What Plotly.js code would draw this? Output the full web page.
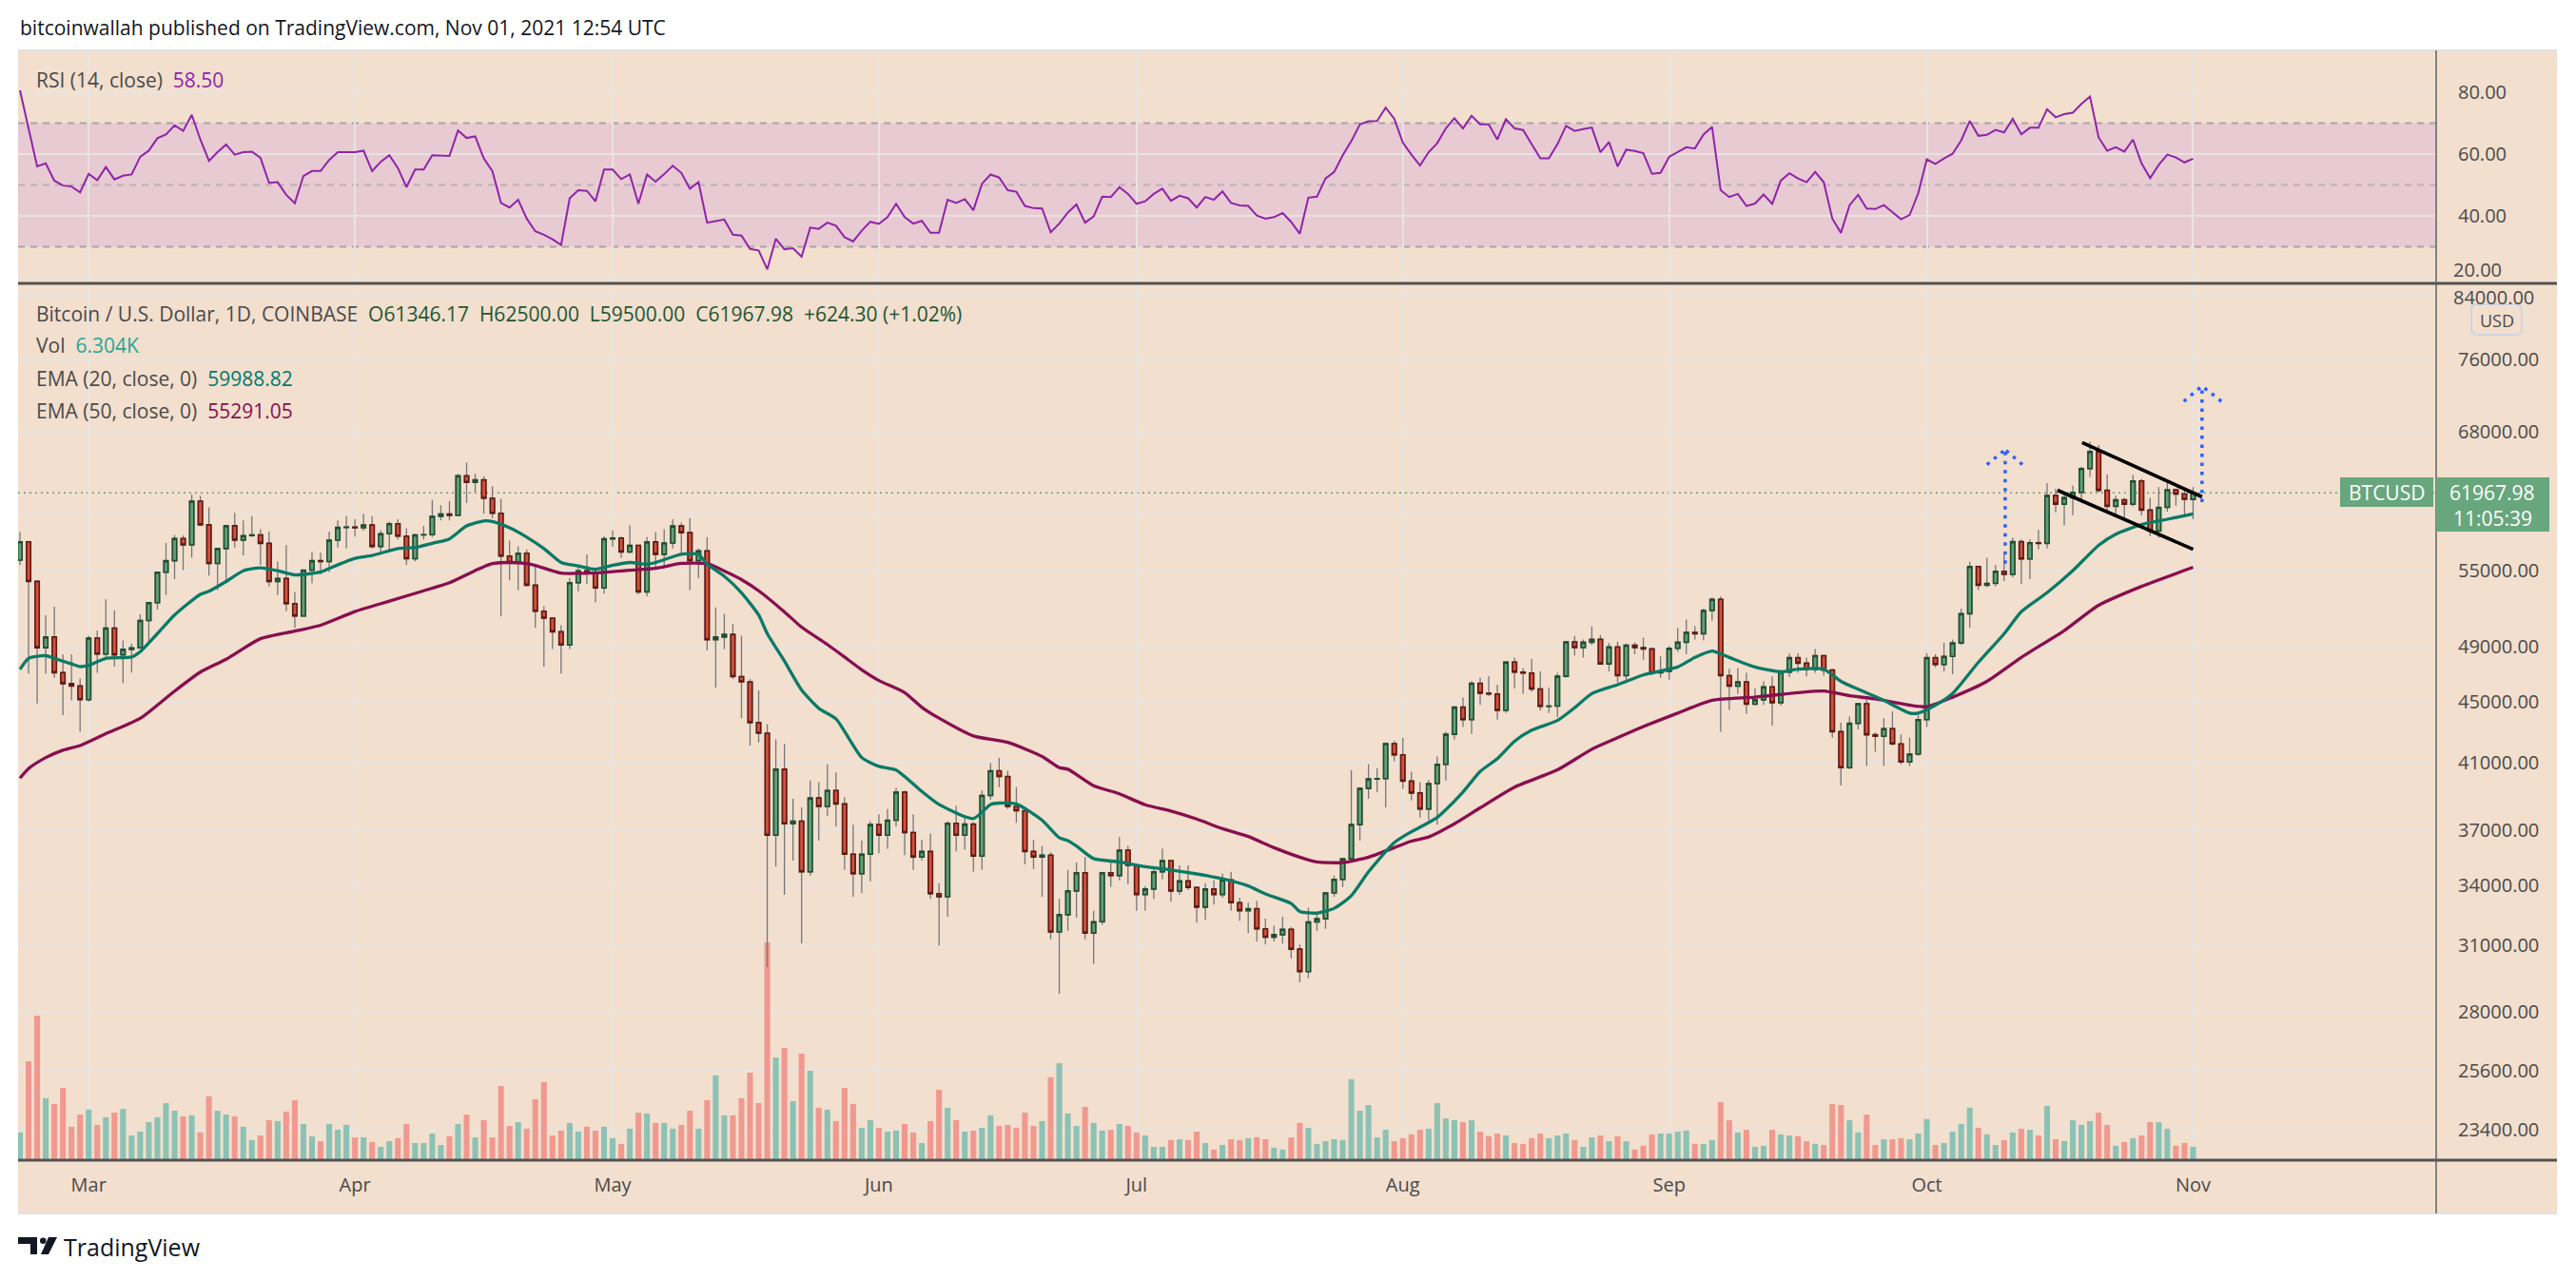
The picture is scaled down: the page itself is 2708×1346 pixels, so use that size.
<!DOCTYPE html>
<html>
<head>
<meta charset="utf-8">
<script src="https://cdn.plot.ly/plotly-3.0.1.min.js"></script>
<style>
html,body{margin:0;padding:0;background:#ffffff;}
#chart{width:2708px;height:1346px;}
</style>
</head>
<body>
<div id="chart"></div>
<script>
// ---------------- DATA ----------------
const firstDay = [2021, 1, 21]; // 21 Feb 2021, one candle per day

const open = [
55900,57490,54110,48890,49700,47060,46280,46110,45160,49620,
48420,50380,48360,48770,48880,50970,52380,54880,55850,57780,
57220,61180,59000,55620,56900,58920,57650,58030,58100,57350,
54100,54350,52300,51320,55050,55850,55780,57630,58770,58800,
58740,58980,57080,58200,59100,57990,56020,58100,58120,59770,
59990,59860,63590,62960,63200,61450,60060,56250,55700,56500,
53800,51700,51150,50100,49100,54000,55000,54850,53570,57750,
57830,56600,57180,53250,57480,56400,57380,58900,58300,55850,
56700,49500,49700,49900,46780,46400,43600,42900,36700,40600,
37350,37500,34700,38850,38350,39300,38500,35650,34600,35650,
37300,36700,37550,39200,36850,35500,35800,33560,33400,37380,
36700,37330,35550,39000,40500,40150,38350,38100,35800,35500,
35600,31650,32500,33700,34650,31600,32150,34650,34500,35870,
35050,33520,33800,34700,35300,33700,34220,33880,32880,33800,
33520,34270,33100,32700,32800,31800,31400,31520,31780,30830,
29790,32140,32300,33600,34300,35400,37300,39420,40000,40020,
42220,41500,39870,39150,38200,39720,40900,42830,44640,43800,
46300,45600,45550,44420,47830,47100,47030,45900,44700,44720,
46800,49330,48900,49300,49520,47700,48950,46850,49080,48900,
48800,47050,47150,48850,49300,50050,49950,51750,52650,46850,
46100,46400,44850,45150,46050,44950,47100,48150,47750,47300,
48300,47250,43000,40700,43550,44880,42800,42700,43200,42200,
41050,41550,43800,48150,47650,48250,49250,51500,55350,53800,
53950,54950,54700,57500,56000,57400,57350,61700,60900,61500,
62000,64300,66000,62200,60700,61300,60900,63100,60350,58450,
60600,62250,61850,61346.17];

const high = [
58350,57530,54200,51370,52050,48390,48400,46640,49790,50200,
52640,51770,49430,49200,51450,52400,54900,57380,58100,58050,
61780,61680,60600,56950,58950,60100,59400,59800,58600,58400,
55800,57200,53250,55100,56600,56550,58400,59400,59800,59500,
60000,59800,58500,59300,59500,58700,58200,58900,61300,60800,
61200,63800,64900,63800,63550,62600,61400,57600,57100,56800,
55500,52100,51200,50600,54400,55500,56400,55200,58000,58500,
57950,58950,57200,57900,58350,58600,59500,59200,59600,56900,
57900,52000,51500,50700,49800,46600,45800,43500,42500,42200,
38800,38300,39900,39800,40900,40400,38900,37300,36400,37500,
37900,38200,39450,39300,37900,36450,36800,34100,37500,38400,
37700,37450,39300,41000,41300,40500,39500,38200,36450,36100,
35750,33300,34800,35200,35500,32700,34700,35300,36600,36100,
35050,33950,35000,35950,35300,35050,35050,33900,34100,34250,
34600,34700,33350,33100,33200,32300,31950,32400,31900,31050,
32850,32600,33650,34500,35400,40550,39500,40900,40650,42300,
42400,42600,40450,39800,39950,41400,43000,44700,45300,46450,
46700,46800,46200,47900,48150,47400,48050,47150,46000,47050,
49400,49800,49500,50500,49850,49250,49350,49200,49300,49650,
48900,48250,49000,50400,51050,50550,51900,52800,52900,47350,
47400,47050,45950,46450,46800,47250,48450,48500,48150,48800,
48350,47350,43600,44000,44950,45150,42950,43900,44350,42800,
42600,44100,48500,48400,49250,49500,51900,55750,55350,56100,
55500,56500,57850,57700,57700,58550,62900,62350,61750,62650,
64500,67000,66650,63750,61700,61500,63700,63300,61500,62500,
62950,62350,62450,62500];

const low = [
55480,47000,44900,47000,46700,44100,45100,43000,45030,47050,
48120,47500,46300,47070,48880,49300,51850,53000,54300,55050,
56100,59000,54600,53400,54100,57000,56300,57900,55500,53700,
53000,51700,50400,51300,53960,54700,54900,57000,56900,57950,
58450,56900,56600,56800,57700,55500,55800,57700,57900,59400,
59400,59800,61000,62000,60000,59600,51300,54200,53400,53700,
50400,47500,48800,47000,48800,53300,53900,52400,53100,57050,
56100,56500,53050,52900,55300,55300,56900,56300,53400,54400,
48700,46000,48800,46600,43900,42100,42300,30000,35000,33500,
35300,31100,34500,36400,37800,37200,34800,33400,33600,34200,
35700,35950,37200,35600,34800,35300,33300,31000,32400,35800,
35900,34700,34800,38750,39500,38200,37400,35100,34850,33400,
31300,28800,31700,32350,31300,30150,32000,33900,34250,34050,
32700,32700,33300,34300,33150,33500,33750,32100,32250,33000,
33350,32700,32200,31600,31200,31050,31200,31100,30400,29300,
29500,31700,31800,33400,33900,35300,36400,38800,39200,38300,
41100,39400,38700,37700,37550,37300,39900,42500,43300,42850,
44800,45400,43800,44250,45950,45550,45700,44400,44250,43950,
46700,48300,48150,49100,47650,47150,46350,46400,48400,48000,
46900,46700,46550,48600,48400,49500,49450,50950,43000,44450,
45550,44200,44750,44800,43400,44750,46750,47050,46800,47050,
46850,42600,39600,40600,43150,40800,41700,40800,42100,40900,
40800,41450,43300,47450,47150,46950,49100,50400,53400,53650,
53700,54150,54450,53900,54300,56850,56900,60150,58950,59850,
61350,63500,62000,60000,59700,59550,60700,59850,58000,57850,
60200,60750,59950,59500];

const close = [
57490,54110,48890,49700,47060,46280,46110,45160,49620,48420,
50380,48360,48770,48880,50970,52380,54880,55850,57780,57220,
61180,59000,55620,56900,58920,57650,58030,58100,57350,54100,
54350,52300,51320,55050,55850,55780,57630,58770,58800,58740,
58980,57080,58200,59100,57990,56020,58100,58120,59770,59990,
59860,63590,62960,63200,61450,60060,56250,55700,56500,53800,
51700,51150,50100,49100,54000,55000,54850,53570,57750,57830,
56600,57180,53250,57480,56400,57380,58900,58300,55850,56700,
49500,49700,49900,46780,46400,43600,42900,36700,40600,37350,
37500,34700,38850,38350,39300,38500,35650,34600,35650,37300,
36700,37550,39200,36850,35500,35800,33560,33400,37380,36700,
37330,35550,39000,40500,40150,38350,38100,35800,35500,35600,
31650,32500,33700,34650,31600,32150,34650,34500,35870,35050,
33520,33800,34700,35300,33700,34220,33880,32880,33800,33520,
34270,33100,32700,32800,31800,31400,31520,31780,30830,29790,
32140,32300,33600,34300,35400,37300,39420,40000,40020,42220,
41500,39870,39150,38200,39720,40900,42830,44640,43800,46300,
45600,45550,44420,47830,47100,47030,45900,44700,44720,46800,
49330,48900,49300,49520,47700,48950,46850,49080,48900,48800,
47050,47150,48850,49300,50050,49950,51750,52650,46850,46100,
46400,44850,45150,46050,44950,47100,48150,47750,47300,48300,
47250,43000,40700,43550,44880,42800,42700,43200,42200,41050,
41550,43800,48150,47650,48250,49250,51500,55350,53800,53950,
54950,54700,57500,56000,57400,57350,61700,60900,61500,62000,
64300,66000,62200,60700,61300,60900,63100,60350,58450,60600,
62250,61850,61350,61967.98];

// volume, thousands of BTC
const volumeK = [
13.1,46.8,68.4,29.3,26.6,34.2,15.8,21.6,23.9,16.7,
20.3,22.5,24.3,11.7,13.5,18.0,20.3,27.0,23.4,20.7,
21.2,13.1,30.2,23.4,21.6,20.7,15.8,9.5,11.7,18.9,
18.5,23.0,28.4,17.1,11.3,9.0,17.1,14.4,16.7,10.8,
10.8,8.6,6.3,9.0,10.4,17.1,8.1,8.1,12.6,7.2,
11.3,17.1,21.6,10.8,18.9,10.8,35.1,16.2,18.0,14.9,
28.8,36.9,11.7,14.0,17.6,13.5,15.8,14.0,15.8,10.4,
7.7,14.9,22.5,22.1,17.6,17.6,14.9,16.7,23.4,14.9,
28.4,40.1,21.2,21.2,29.3,41.4,27.0,103.1,48.6,53.1,
27.9,50.4,42.3,24.8,23.9,18.5,34.2,26.6,15.3,18.9,
15.3,13.5,14.0,17.1,13.1,8.1,18.5,33.3,24.8,18.9,
13.5,14.0,15.3,21.2,16.2,16.7,15.3,22.5,16.2,18.5,
39.2,45.9,22.1,16.2,25.2,17.6,14.0,14.4,17.1,16.2,
13.1,11.7,6.3,6.3,9.5,9.9,9.5,13.5,8.1,5.0,
7.2,9.9,9.5,10.4,10.8,9.9,5.9,5.0,10.8,17.6,
15.3,7.7,9.0,9.9,9.5,38.3,23.4,26.1,10.8,14.4,
9.0,10.4,12.2,14.4,14.9,27.0,19.8,18.9,18.0,18.9,
13.5,11.3,12.6,11.7,8.1,7.7,10.4,12.6,10.4,11.7,
12.6,9.5,6.3,10.8,11.7,9.0,11.3,9.0,5.0,6.8,
12.2,12.6,12.6,13.5,14.0,7.7,7.7,9.5,27.5,18.9,
13.1,14.4,6.3,6.8,14.4,12.2,11.7,11.3,9.0,7.7,
7.2,26.6,26.1,18.9,13.1,21.6,7.2,9.9,9.9,10.4,
9.9,12.6,19.4,7.2,8.1,13.5,17.1,24.8,15.3,12.2,
7.2,9.5,13.1,14.9,14.4,11.7,25.7,9.9,9.0,18.9,
16.7,18.5,22.5,16.7,6.8,8.6,10.4,11.7,18.0,18.0,
14.9,6.8,8.1,6.304];

const rsi = [
80.6,68.0,56.0,57.0,51.4,49.8,49.5,47.6,53.6,51.5,
55.8,51.8,53.0,53.4,59.1,61.1,65.1,66.3,69.3,67.5,
72.7,64.7,57.8,60.6,63.1,59.8,60.6,60.8,58.8,50.7,
50.9,46.8,44.1,52.9,54.5,54.5,58.1,60.6,60.6,60.6,
61.1,54.5,57.5,59.6,55.5,49.3,55.0,55.0,59.6,59.6,
59.4,67.6,65.2,65.7,58.6,54.5,44.2,42.7,45.2,39.1,
35.0,33.9,32.4,30.6,45.7,48.3,48.1,44.7,55.0,55.0,
51.9,53.4,43.9,53.4,51.1,53.5,56.2,53.9,48.8,50.9,
37.8,38.3,38.8,33.9,33.6,29.3,28.8,22.7,32.6,29.2,
29.5,26.8,36.2,35.8,37.8,36.8,33.1,31.7,35.2,38.1,
37.4,39.6,43.9,39.6,37.5,38.4,34.5,34.5,45.2,44.2,
45.4,41.8,50.4,53.4,52.4,48.3,47.8,43.2,42.5,42.4,
34.7,37.5,41.1,43.7,37.8,39.8,46.2,46.1,49.3,47.1,
43.9,44.7,47.1,48.8,44.9,46.5,45.7,42.7,46.1,45.2,
47.9,44.2,43.4,43.2,40.1,39.1,39.6,40.9,38.0,34.2,
45.9,46.2,52.1,54.2,59.6,64.2,69.6,70.6,70.7,75.0,
71.4,63.7,59.8,56.3,60.6,63.5,68.3,71.6,68.3,72.4,
69.6,69.6,64.7,71.3,68.3,67.8,63.4,58.6,58.6,63.2,
69.1,67.5,68.1,68.6,60.6,63.9,56.0,61.4,61.0,60.3,
53.6,53.9,59.1,60.6,62.2,61.8,66.3,68.8,48.3,46.1,
47.1,43.2,44.0,46.9,43.9,51.4,53.8,52.1,50.9,54.2,
50.9,39.1,34.5,43.4,46.8,42.4,42.2,43.5,41.1,38.9,
40.3,47.3,58.3,56.8,58.6,60.1,64.4,70.7,65.9,66.2,
67.8,67.0,71.4,66.4,68.5,68.5,74.5,71.9,72.9,73.4,
76.2,78.6,65.4,61.1,62.2,60.8,64.7,57.0,52.2,56.5,
59.8,58.9,57.3,58.50];

// EMA lines, read at sample days (day index from 21 Feb)
const ema20Day = [0,1,3,4,6,7,8,10,13,14,16,18,21,22,24,26,28,30,32,35,36,39,41,44,46,48,50,52,54,55,57,59,61,63,65,67,69,71,73,74,77,79,80,82,84,86,87,89,91,93,95,98,100,102,105,107,111,113,114,116,119,121,122,123,125,128,131,134,137,140,143,145,148,149,151,153,155,157,160,162,165,168,170,172,174,176,179,181,183,186,189,193,195,197,199,202,205,207,210,212,214,217,220,221,223,225,228,231,233,236,239,242,244,247,250,253];
const ema20 = [47300,48100,48300,48100,47700,47500,47600,48100,48200,48600,49960,51400,53050,53300,54100,55000,55250,55000,54650,54900,55200,56060,56300,56900,57000,57360,57750,58900,59350,59300,58730,57900,56900,55700,55400,55120,55460,55700,55550,55700,56400,56400,55550,54540,53180,51400,49960,47900,45830,44560,43850,41330,40780,40550,39240,38470,37650,38470,38550,38500,37550,36560,36400,36100,35410,35230,34970,34800,34590,34340,33960,33550,33060,32660,32580,32820,33460,34700,36290,36900,37710,39210,40460,41260,42370,43100,43740,44600,45580,46200,46900,47470,48170,48640,48170,47470,47120,47310,47310,46440,45880,45110,44240,44240,44780,45590,47810,49940,51660,53180,55010,57180,58170,59020,59510,59988.82];

const ema50Day = [0,1,3,5,7,10,14,18,21,24,28,32,35,39,43,47,50,53,55,57,59,60,63,65,68,71,74,77,80,82,84,86,89,91,94,96,98,100,103,105,107,111,115,119,121,122,125,128,131,134,137,140,143,146,149,151,154,157,160,162,164,167,170,174,179,183,186,188,193,197,202,207,210,213,216,220,222,225,229,233,238,242,247,253];
const ema50 = [40050,40640,41330,41800,42100,42870,43880,45750,47100,48040,49570,50150,50600,51670,52500,53340,54000,55020,55600,55700,55600,55450,54800,54780,54870,55040,55200,55620,55600,54980,54260,53340,51650,50450,49130,48200,47270,46500,45650,44630,43900,42720,42300,41400,40700,40600,39590,39100,38450,38080,37620,37070,36630,36010,35490,35230,35200,35490,36010,36370,36600,37350,38270,39500,40560,41860,42600,43100,44240,45110,45330,45650,45760,45430,45210,44780,44670,45330,46440,48170,50190,52170,53700,55291.05];

// tick labels / grid levels
const priceTicks = [23400,25600,28000,31000,34000,37000,41000,45000,49000,55000,68000,76000];
const priceTopTick = 84000;          // label sits at the pane top
const priceHiddenGrid = 60000;       // label hidden under the price tag
const rsiTicks = [40,60,80];
const rsiBottomTick = 20;            // label sits at the pane bottom
const rsiLevels = [30,50,70];

// drawings on the chart (date, price)
const channelUpperX = ['2021-10-19 02:00','2021-11-02 01:00'];
const channelUpperY = [66910, 61580];
const channelLowerX = ['2021-10-16 05:00','2021-11-01 00:00'];
const channelLowerY = [62210, 56840];
const arrow1X = ['2021-10-08 00:00','2021-10-10 03:00','2021-10-12 03:00'];
const arrow1Y = [55600, 66190, 64700];   // shaft bottom, tip, wing level
const arrow2X = ['2021-10-30 22:00','2021-11-02 01:00','2021-11-04 07:00'];
const arrow2Y = [61100, 72950, 71270];

// ---------------- CHART ----------------
const FONT = '"Open Sans", "Noto Sans", "DejaVu Sans", sans-serif';
const W = 2708, H = 1346;
const X0 = 19, X1 = 2561, XR = 2688;
const px = v => v / W;
const py = v => 1 - v / H;

const dates = close.map((_, i) => new Date(Date.UTC(firstDay[0], firstDay[1], firstDay[2] + i)).toISOString().slice(0, 10));
const bodyHigh = open.map((o, i) => Math.max(o, close[i]));
const bodyLow = open.map((o, i) => Math.min(o, close[i]));
const volColors = close.map((c, i) => c >= open[i] ? 'rgba(38,166,154,0.5)' : 'rgba(239,83,80,0.5)');
const last = close.length - 1;

const xRange = ['2021-02-20 18:43', '2021-11-29 07:12'];
const GRID = '#e8e3df';
const UPF = '#62a078', UPL = '#1f4d30', DNF = '#d5503d', DNL = '#5e1a13', WICK = '#777777';
const BLUE = '#2962ff';
const LABELG = '#68a67e';
const AXT = '#4a4a4a';

const traces = [
  {type:'bar', x:dates, y:volumeK, xaxis:'x', yaxis:'y2',
   marker:{color:volColors, line:{width:0}}, hoverinfo:'skip'},
  {type:'scatter', mode:'lines', x:ema50Day.map(i => dates[i]), y:ema50, xaxis:'x', yaxis:'y3',
   line:{color:'#880e4f', width:3.3, shape:'spline', smoothing:0.6}, hoverinfo:'skip'},
  {type:'scatter', mode:'lines', x:ema20Day.map(i => dates[i]), y:ema20, xaxis:'x', yaxis:'y3',
   line:{color:'#0a7a66', width:3.3, shape:'spline', smoothing:0.6}, hoverinfo:'skip'},
  {type:'candlestick', x:dates, open:open, high:high, low:low, close:close, xaxis:'x', yaxis:'y3',
   increasing:{line:{color:WICK, width:1.3}, fillcolor:UPF},
   decreasing:{line:{color:WICK, width:1.3}, fillcolor:DNF}, hoverinfo:'skip'},
  {type:'candlestick', x:dates, open:open, high:bodyHigh, low:bodyLow, close:close, xaxis:'x', yaxis:'y3',
   increasing:{line:{color:UPL, width:1.6}, fillcolor:UPF},
   decreasing:{line:{color:DNL, width:1.6}, fillcolor:DNF}, hoverinfo:'skip'},
  {type:'scatter', mode:'lines', x:dates, y:rsi, xaxis:'x2', yaxis:'y',
   line:{color:'#8e24aa', width:2}, hoverinfo:'skip'}
];

const tickFont = {family:FONT, size:20, color:AXT};

const paperLine = (x0, y0, x1, y1, color, width, layer, dash) =>
  ({type:'line', xref:'paper', yref:'paper', x0:px(x0), y0:py(y0), x1:px(x1), y1:py(y1),
    line:{color:color, width:width, dash:dash || 'solid'}, layer:layer || 'above'});
const paperRect = (x0, y0, x1, y1, fill, layer, line) =>
  ({type:'rect', xref:'paper', yref:'paper', x0:px(x0), x1:px(x1), y0:py(y1), y1:py(y0),
    fillcolor:fill, line:line || {width:0}, layer:layer || 'above'});
const dataLine = (x0, y0, x1, y1, color, width, dash) =>
  ({type:'line', xref:'x', yref:'y3', x0:x0, y0:y0, x1:x1, y1:y1,
    line:{color:color, width:width, dash:dash || 'solid'}, layer:'above'});
const pathP = pts => 'M' + pts.map(p => px(p[0]) + ',' + py(p[1])).join(' L') + ' Z';
const roundRect = (x0, y0, x1, y1, r) => {
  const P = (x, y) => px(x) + ',' + py(y);
  return 'M' + P(x0 + r, y0) + ' L' + P(x1 - r, y0) + ' Q' + P(x1, y0) + ' ' + P(x1, y0 + r) +
    ' L' + P(x1, y1 - r) + ' Q' + P(x1, y1) + ' ' + P(x1 - r, y1) +
    ' L' + P(x0 + r, y1) + ' Q' + P(x0, y1) + ' ' + P(x0, y1 - r) +
    ' L' + P(x0, y0 + r) + ' Q' + P(x0, y0) + ' ' + P(x0 + r, y0) + ' Z';
};
const DOTS = '3.5px,6px';

const shapes = [
  paperRect(X0, 53, XR, 1276, '#f2dfce', 'below'),
  {type:'rect', xref:'paper', yref:'y', x0:px(X0), x1:px(X1), y0:rsiLevels[0], y1:rsiLevels[2],
   fillcolor:'#e8cad2', line:{width:0}, layer:'below'},
  ...rsiLevels.map(v => ({type:'line', xref:'paper', yref:'y', x0:px(X0), x1:px(X1), y0:v, y1:v,
     line:{color: v === 50 ? '#bcb2b6' : '#aaa3a8', width:2, dash:'7px,6px'}, layer:'below'})),
  {type:'line', xref:'paper', yref:'y', x0:px(X0), x1:px(X1), y0:rsiBottomTick, y1:rsiBottomTick,
   line:{color:GRID, width:2}, layer:'below'},
  {type:'line', xref:'paper', yref:'y3', x0:px(X0), x1:px(X1), y0:priceTopTick, y1:priceTopTick,
   line:{color:GRID, width:2}, layer:'below'},
  {type:'line', xref:'paper', yref:'y3', x0:px(X0), x1:px(X1), y0:priceHiddenGrid, y1:priceHiddenGrid,
   line:{color:GRID, width:2}, layer:'below'},
  {type:'line', xref:'paper', yref:'y3', x0:px(X0), x1:px(X1), y0:close[last], y1:close[last],
   line:{color:'#58a577', width:1.6, dash:'2px,4px'}, layer:'below'},
  // channel
  dataLine(channelUpperX[0], channelUpperY[0], channelUpperX[1], channelUpperY[1], '#000000', 3.6),
  dataLine(channelLowerX[0], channelLowerY[0], channelLowerX[1], channelLowerY[1], '#000000', 3.6),
  // target arrows
  dataLine(arrow1X[1], arrow1Y[0], arrow1X[1], arrow1Y[1], BLUE, 3.5, DOTS),
  dataLine(arrow1X[0], arrow1Y[2], arrow1X[1], arrow1Y[1], BLUE, 3.5, DOTS),
  dataLine(arrow1X[2], arrow1Y[2], arrow1X[1], arrow1Y[1], BLUE, 3.5, DOTS),
  dataLine(arrow2X[1], arrow2Y[0], arrow2X[1], arrow2Y[1], BLUE, 3.5, DOTS),
  dataLine(arrow2X[0], arrow2Y[2], arrow2X[1], arrow2Y[1], BLUE, 3.5, DOTS),
  dataLine(arrow2X[2], arrow2Y[2], arrow2X[1], arrow2Y[1], BLUE, 3.5, DOTS),
  // frame
  paperLine(X0, 53, XR, 53, '#e1e1e1', 2),
  paperLine(X0, 1276, XR, 1276, '#e1e1e1', 2),
  paperLine(X0, 298, XR, 298, '#525252', 3),
  paperLine(X0, 1220, XR, 1220, '#525252', 3),
  paperLine(X1, 53, X1, 1276, '#606060', 1.5),
  // price labels
  {type:'path', xref:'paper', yref:'paper', path:roundRect(2598, 320, 2651, 352, 6),
   fillcolor:'rgba(0,0,0,0)', line:{color:'#cfd5e1', width:2}, layer:'above'},
  paperRect(2460, 502, 2558, 533, LABELG),
  paperRect(2561, 502, 2680, 559, LABELG),
  // TradingView logo
  {type:'path', xref:'paper', yref:'paper', path:pathP([[19,1301],[39,1301],[39,1319],[32,1319],[32,1308],[19,1308]]),
   fillcolor:'#131722', line:{width:0}, layer:'above'},
  {type:'circle', xref:'paper', yref:'paper', x0:px(42), x1:px(48.5), y0:py(1308), y1:py(1301.5),
   fillcolor:'#131722', line:{width:0}, layer:'above'},
  {type:'path', xref:'paper', yref:'paper', path:pathP([[51,1301],[60,1301],[51,1319],[43,1319]]),
   fillcolor:'#131722', line:{width:0}, layer:'above'}
];

const ann = (x, y, text, opts) => Object.assign({xref:'paper', yref:'paper', x:px(x), y:py(y), text:text,
  showarrow:false, xanchor:'left', yanchor:'middle', font:{family:FONT, size:21, color:AXT}}, opts || {});
const sp = '\u00a0\u00a0';

const annotations = [
  ann(19, 29, 'bitcoinwallah published on TradingView.com, Nov 01, 2021 12:54 UTC', {font:{family:FONT, size:21, color:'#131722'}}),
  ann(36, 84, 'RSI (14, close)' + sp + '<span style="color:#8e24aa">' + rsi[last].toFixed(2) + '</span>'),
  ann(36, 330, 'Bitcoin / U.S. Dollar, 1D, COINBASE' + sp + '<span style="color:#1e5631">O' + open[last].toFixed(2) +
      sp + 'H' + high[last].toFixed(2) + sp + 'L' + low[last].toFixed(2) + sp + 'C' + close[last].toFixed(2) +
      sp + '+624.30 (+1.02%)</span>'),
  ann(36, 363, 'Vol' + sp + '<span style="color:#26a69a">' + volumeK[last].toFixed(3) + 'K</span>'),
  ann(36, 398, 'EMA (20, close, 0)' + sp + '<span style="color:#00796b">' + ema20[ema20.length - 1].toFixed(2) + '</span>'),
  ann(36, 432, 'EMA (50, close, 0)' + sp + '<span style="color:#880e4f">' + ema50[ema50.length - 1].toFixed(2) + '</span>'),
  // axis labels that sit on the pane border
  ann(2577, 298.5, rsiBottomTick.toFixed(2), {yanchor:'bottom', font:tickFont}),
  ann(2577, 297, priceTopTick.toFixed(2), {yanchor:'top', font:tickFont}),
  ann(2624.5, 337, 'USD', {xanchor:'center', font:{family:FONT, size:18, color:AXT}}),
  ann(2509, 518, 'BTCUSD', {xanchor:'center', font:{family:FONT, size:21, color:'#ffffff'}}),
  ann(2620, 518, close[last].toFixed(2), {xanchor:'center', font:{family:FONT, size:21, color:'#ffffff'}}),
  ann(2620, 545, '11:05:39', {xanchor:'center', font:{family:FONT, size:21, color:'#ffffff'}}),
  ann(65, 1311, 'TradingView', {font:{family:FONT, size:25, color:'#131722'}})
];

const layout = {
  width:W, height:H,
  margin:{l:0, r:0, t:0, b:0},
  paper_bgcolor:'#ffffff',
  plot_bgcolor:'rgba(0,0,0,0)',
  showlegend:false,
  hovermode:false,
  dragmode:false,
  font:{family:FONT, size:20, color:AXT},
  bargap:0.33,
  xaxis:{domain:[px(X0), px(X1)], anchor:'y2', type:'date', range:xRange,
    rangeslider:{visible:false}, showgrid:true, gridcolor:GRID, gridwidth:2,
    dtick:'M1', tick0:'2021-01-01', tickformat:'%b', ticks:'', ticklabelstandoff:12,
    tickfont:tickFont, showline:false, zeroline:false, fixedrange:true},
  xaxis2:{domain:[px(X0), px(X1)], anchor:'y', type:'date', range:xRange,
    showgrid:true, gridcolor:GRID, gridwidth:2, dtick:'M1', tick0:'2021-01-01',
    showticklabels:false, ticks:'', showline:false, zeroline:false, fixedrange:true},
  yaxis:{domain:[py(298), py(53)], anchor:'x2', side:'right', range:[18.15, 93.54],
    tickvals:rsiTicks, ticktext:rsiTicks.map(v => v.toFixed(2)), showgrid:true, gridcolor:GRID, gridwidth:2,
    ticks:'', ticklabelstandoff:22, tickfont:tickFont, zeroline:false, showline:false, fixedrange:true},
  yaxis2:{domain:[py(1220), py(300)], anchor:'x', range:[0, 414], visible:false,
    showgrid:false, zeroline:false, fixedrange:true},
  yaxis3:{overlaying:'y2', anchor:'x', side:'right', type:'log', range:[4.3488, 4.9300],
    tickvals:priceTicks, ticktext:priceTicks.map(v => v.toFixed(2)), showgrid:true, gridcolor:GRID, gridwidth:2,
    ticks:'', ticklabelstandoff:22, tickfont:tickFont, zeroline:false, showline:false, fixedrange:true},
  shapes:shapes,
  annotations:annotations
};

Plotly.newPlot('chart', traces, layout, {staticPlot:true, displayModeBar:false});
</script>
</body>
</html>
